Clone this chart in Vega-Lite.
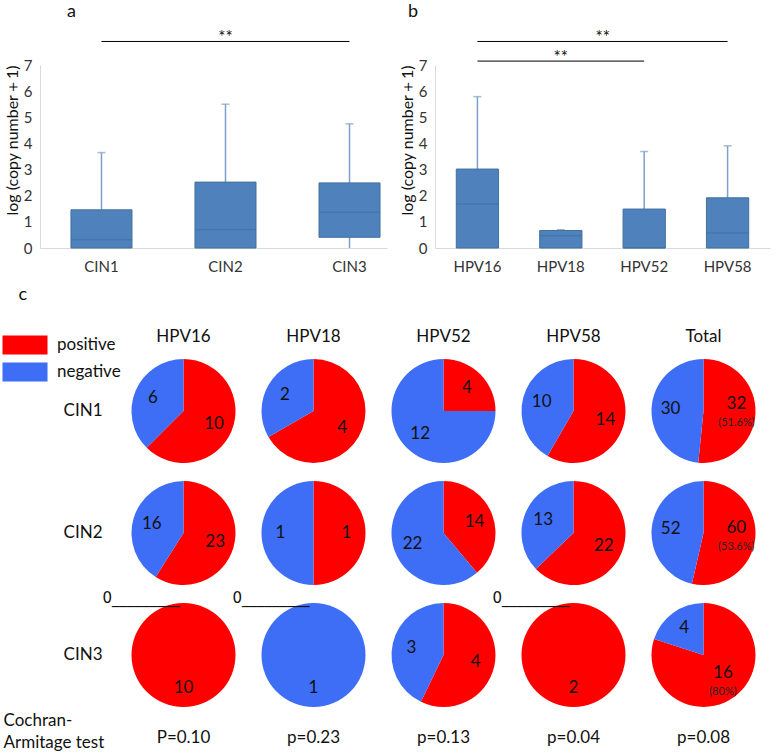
{
  "$schema": "https://vega.github.io/schema/vega-lite/v6.json",
  "padding": {"left": 3, "top": 3, "right": 0, "bottom": 0},
  "config": {
    "font": "Lato",
    "view": {"stroke": null},
    "axis": {"labelColor": "#333", "titleColor": "#111", "labelFont": "Lato", "titleFont": "Lato", "labelOverlap": false},
    "title": {"font": "Lato", "fontWeight": "normal", "color": "#111"},
    "header": {"labelFont": "Lato", "labelColor": "#111"},
    "legend": {"labelFont": "Lato", "labelColor": "#111"}
  },
  "center": true,
  "spacing": 12,
  "vconcat": [
    {
      "spacing": 12,
      "hconcat": [
        {
          "title": {"text": "a", "anchor": "start", "frame": "group", "dx": 27, "fontSize": 18, "offset": 8},
          "width": 347,
          "height": 183,
          "data": {"values": [
            {"cat": "CIN1", "lo": 0, "q1": 0, "med": 0.32, "q3": 1.46, "hi": 3.65},
            {"cat": "CIN2", "lo": 0, "q1": 0, "med": 0.70, "q3": 2.52, "hi": 5.5},
            {"cat": "CIN3", "lo": 0, "q1": 0.41, "med": 1.37, "q3": 2.49, "hi": 4.75}
          ]},
          "layer": [
            {
              "mark": {"type": "rule", "color": "#7F9FC8", "strokeWidth": 1.5},
              "encoding": {
                "x": {"field": "cat", "type": "nominal", "scale": {"paddingInner": 0.508, "paddingOuter": 0.153, "align": 0.816},
                      "axis": {"title": null, "labelAngle": 0, "ticks": false, "labelFontSize": 15, "labelPadding": 11, "domainColor": "#d9d9d9"}},
                "y": {"field": "lo", "type": "quantitative", "scale": {"domain": [0, 7], "nice": false},
                      "axis": {"values": [0, 1, 2, 3, 4, 5, 6, 7], "labelOverlap": false, "title": "log (copy number＋1)", "titleFontSize": 16, "titleFontWeight": "normal", "titleAnchor": "end", "titlePadding": 3, "labelPadding": 8, "ticks": false, "grid": false, "domainColor": "#d9d9d9", "labelFontSize": 15}},
                "y2": {"field": "hi"}
              }
            },
            {
              "mark": {"type": "tick", "color": "#7F9FC8", "size": 8, "thickness": 1.5},
              "encoding": {"x": {"field": "cat", "type": "nominal"},
                "y": {"field": "hi", "type": "quantitative", "axis": {"values": [0, 1, 2, 3, 4, 5, 6, 7], "labelOverlap": false, "title": "log (copy number＋1)", "titleFontSize": 16, "titleFontWeight": "normal", "titleAnchor": "end", "titlePadding": 3, "labelPadding": 8, "ticks": false, "grid": false, "domainColor": "#d9d9d9", "labelFontSize": 15}}}
            },
            {
              "mark": {"type": "bar", "fill": "#4F81BD", "stroke": "#41719C", "strokeWidth": 1},
              "encoding": {"x": {"field": "cat", "type": "nominal"},
                "y": {"field": "q1", "type": "quantitative", "axis": {"values": [0, 1, 2, 3, 4, 5, 6, 7], "labelOverlap": false, "title": "log (copy number＋1)", "titleFontSize": 16, "titleFontWeight": "normal", "titleAnchor": "end", "titlePadding": 3, "labelPadding": 8, "ticks": false, "grid": false, "domainColor": "#d9d9d9", "labelFontSize": 15}},
                "y2": {"field": "q3"}}
            },
            {
              "mark": {"type": "tick", "color": "#3D6A98", "size": 61, "thickness": 1},
              "encoding": {"x": {"field": "cat", "type": "nominal"},
                "y": {"field": "med", "type": "quantitative", "axis": {"values": [0, 1, 2, 3, 4, 5, 6, 7], "labelOverlap": false, "title": "log (copy number＋1)", "titleFontSize": 16, "titleFontWeight": "normal", "titleAnchor": "end", "titlePadding": 3, "labelPadding": 8, "ticks": false, "grid": false, "domainColor": "#d9d9d9", "labelFontSize": 15}}}
            },
            {
              "data": {"values": [{"from": "CIN1", "to": "CIN3", "mid": "CIN2", "y": 7.9, "label": "**"}]},
              "layer": [
                {
                  "mark": {"type": "rule", "color": "#000", "strokeWidth": 1},
                  "encoding": {"x": {"field": "from", "type": "nominal"}, "x2": {"field": "to"},
                    "y": {"field": "y", "type": "quantitative", "axis": {"values": [0, 1, 2, 3, 4, 5, 6, 7], "labelOverlap": false, "title": "log (copy number＋1)", "titleFontSize": 16, "titleFontWeight": "normal", "titleAnchor": "end", "titlePadding": 3, "labelPadding": 8, "ticks": false, "grid": false, "domainColor": "#d9d9d9", "labelFontSize": 15}}}
                },
                {
                  "mark": {"type": "text", "fontSize": 17, "baseline": "alphabetic", "dy": 2, "color": "#111"},
                  "encoding": {"x": {"field": "mid", "type": "nominal"},
                    "y": {"field": "y", "type": "quantitative", "axis": {"values": [0, 1, 2, 3, 4, 5, 6, 7], "labelOverlap": false, "title": "log (copy number＋1)", "titleFontSize": 16, "titleFontWeight": "normal", "titleAnchor": "end", "titlePadding": 3, "labelPadding": 8, "ticks": false, "grid": false, "domainColor": "#d9d9d9", "labelFontSize": 15}},
                    "text": {"field": "label"}}
                }
              ]
            }
          ]
        },
        {
          "title": {"text": "b", "anchor": "start", "frame": "group", "dx": -27, "fontSize": 18, "offset": 8},
          "width": 335,
          "height": 183,
          "data": {"values": [
            {"cat": "HPV16", "lo": 0, "q1": 0, "med": 1.68, "q3": 3.02, "hi": 5.79},
            {"cat": "HPV18", "lo": 0, "q1": 0, "med": 0.47, "q3": 0.67, "hi": 0.70},
            {"cat": "HPV52", "lo": 0, "q1": 0, "med": 0, "q3": 1.49, "hi": 3.69},
            {"cat": "HPV58", "lo": 0, "q1": 0, "med": 0.57, "q3": 1.92, "hi": 3.91}
          ]},
          "layer": [
            {
              "mark": {"type": "rule", "color": "#7F9FC8", "strokeWidth": 1.5},
              "encoding": {
                "x": {"field": "cat", "type": "nominal", "scale": {"paddingInner": 0.493, "paddingOuter": 0.255},
                      "axis": {"title": null, "labelAngle": 0, "ticks": false, "labelFontSize": 15, "labelPadding": 11, "domainColor": "#d9d9d9"}},
                "y": {"field": "lo", "type": "quantitative", "scale": {"domain": [0, 7], "nice": false},
                      "axis": {"values": [0, 1, 2, 3, 4, 5, 6, 7], "labelOverlap": false, "title": "log (copy number＋1)", "titleFontSize": 16, "titleFontWeight": "normal", "titleAnchor": "end", "titlePadding": 3, "labelPadding": 8, "ticks": false, "grid": false, "domainColor": "#d9d9d9", "labelFontSize": 15}},
                "y2": {"field": "hi"}
              }
            },
            {
              "mark": {"type": "tick", "color": "#7F9FC8", "size": 8, "thickness": 1.5},
              "encoding": {"x": {"field": "cat", "type": "nominal"},
                "y": {"field": "hi", "type": "quantitative", "axis": {"values": [0, 1, 2, 3, 4, 5, 6, 7], "labelOverlap": false, "title": "log (copy number＋1)", "titleFontSize": 16, "titleFontWeight": "normal", "titleAnchor": "end", "titlePadding": 3, "labelPadding": 8, "ticks": false, "grid": false, "domainColor": "#d9d9d9", "labelFontSize": 15}}}
            },
            {
              "mark": {"type": "bar", "fill": "#4F81BD", "stroke": "#41719C", "strokeWidth": 1},
              "encoding": {"x": {"field": "cat", "type": "nominal"},
                "y": {"field": "q1", "type": "quantitative", "axis": {"values": [0, 1, 2, 3, 4, 5, 6, 7], "labelOverlap": false, "title": "log (copy number＋1)", "titleFontSize": 16, "titleFontWeight": "normal", "titleAnchor": "end", "titlePadding": 3, "labelPadding": 8, "ticks": false, "grid": false, "domainColor": "#d9d9d9", "labelFontSize": 15}},
                "y2": {"field": "q3"}}
            },
            {
              "mark": {"type": "tick", "color": "#3D6A98", "size": 42, "thickness": 1},
              "encoding": {"x": {"field": "cat", "type": "nominal"},
                "y": {"field": "med", "type": "quantitative", "axis": {"values": [0, 1, 2, 3, 4, 5, 6, 7], "labelOverlap": false, "title": "log (copy number＋1)", "titleFontSize": 16, "titleFontWeight": "normal", "titleAnchor": "end", "titlePadding": 3, "labelPadding": 8, "ticks": false, "grid": false, "domainColor": "#d9d9d9", "labelFontSize": 15}}}
            },
            {
              "data": {"values": [
                {"from": "HPV16", "to": "HPV58", "mid": "HPV18", "y": 7.9, "label": "**", "k": "u"},
                {"from": "HPV16", "to": "HPV52", "mid": "HPV18", "y": 7.15, "label": "**", "k": "l"}
              ]},
              "layer": [
                {
                  "mark": {"type": "rule", "color": "#000", "strokeWidth": 1},
                  "encoding": {"x": {"field": "from", "type": "nominal"}, "x2": {"field": "to"},
                    "y": {"field": "y", "type": "quantitative", "axis": {"values": [0, 1, 2, 3, 4, 5, 6, 7], "labelOverlap": false, "title": "log (copy number＋1)", "titleFontSize": 16, "titleFontWeight": "normal", "titleAnchor": "end", "titlePadding": 3, "labelPadding": 8, "ticks": false, "grid": false, "domainColor": "#d9d9d9", "labelFontSize": 15}}}
                },
                {
                  "transform": [{"filter": "datum.k == 'u'"}],
                  "mark": {"type": "text", "fontSize": 17, "baseline": "alphabetic", "dy": 2, "color": "#111"},
                  "encoding": {"x": {"field": "mid", "type": "nominal", "bandPosition": 1.49},
                    "y": {"field": "y", "type": "quantitative", "axis": {"values": [0, 1, 2, 3, 4, 5, 6, 7], "labelOverlap": false, "title": "log (copy number＋1)", "titleFontSize": 16, "titleFontWeight": "normal", "titleAnchor": "end", "titlePadding": 3, "labelPadding": 8, "ticks": false, "grid": false, "domainColor": "#d9d9d9", "labelFontSize": 15}},
                    "text": {"field": "label"}}
                },
                {
                  "transform": [{"filter": "datum.k == 'l'"}],
                  "mark": {"type": "text", "fontSize": 17, "baseline": "alphabetic", "dy": 2, "color": "#111"},
                  "encoding": {"x": {"field": "mid", "type": "nominal"},
                    "y": {"field": "y", "type": "quantitative", "axis": {"values": [0, 1, 2, 3, 4, 5, 6, 7], "labelOverlap": false, "title": "log (copy number＋1)", "titleFontSize": 16, "titleFontWeight": "normal", "titleAnchor": "end", "titlePadding": 3, "labelPadding": 8, "ticks": false, "grid": false, "domainColor": "#d9d9d9", "labelFontSize": 15}},
                    "text": {"field": "label"}}
                }
              ]
            }
          ]
        },
        {
          "width": 65,
          "height": 10,
          "data": {"values": [{"k": "spacer"}]},
          "mark": {"type": "point", "opacity": 0},
          "encoding": {}
        }
      ]
    },
    {
      "title": {"text": "c", "anchor": "start", "frame": "bounds", "dx": 15, "fontSize": 18, "offset": 24},
      "bounds": "flush",
      "data": {"values": [
        {"grade": "CIN1", "type": "HPV16", "status": "positive", "count": 10},
        {"grade": "CIN1", "type": "HPV16", "status": "negative", "count": 6},
        {"grade": "CIN1", "type": "HPV18", "status": "positive", "count": 4},
        {"grade": "CIN1", "type": "HPV18", "status": "negative", "count": 2},
        {"grade": "CIN1", "type": "HPV52", "status": "positive", "count": 4},
        {"grade": "CIN1", "type": "HPV52", "status": "negative", "count": 12},
        {"grade": "CIN1", "type": "HPV58", "status": "positive", "count": 14},
        {"grade": "CIN1", "type": "HPV58", "status": "negative", "count": 10},
        {"grade": "CIN1", "type": "Total", "status": "positive", "count": 32, "pct": "(51.6%)"},
        {"grade": "CIN1", "type": "Total", "status": "negative", "count": 30},
        {"grade": "CIN2", "type": "HPV16", "status": "positive", "count": 23},
        {"grade": "CIN2", "type": "HPV16", "status": "negative", "count": 16},
        {"grade": "CIN2", "type": "HPV18", "status": "positive", "count": 1},
        {"grade": "CIN2", "type": "HPV18", "status": "negative", "count": 1},
        {"grade": "CIN2", "type": "HPV52", "status": "positive", "count": 14},
        {"grade": "CIN2", "type": "HPV52", "status": "negative", "count": 22},
        {"grade": "CIN2", "type": "HPV58", "status": "positive", "count": 22},
        {"grade": "CIN2", "type": "HPV58", "status": "negative", "count": 13},
        {"grade": "CIN2", "type": "Total", "status": "positive", "count": 60, "pct": "(53.6%)"},
        {"grade": "CIN2", "type": "Total", "status": "negative", "count": 52},
        {"grade": "CIN3", "type": "HPV16", "status": "positive", "count": 10},
        {"grade": "CIN3", "type": "HPV16", "status": "negative", "count": 0},
        {"grade": "CIN3", "type": "HPV18", "status": "positive", "count": 0},
        {"grade": "CIN3", "type": "HPV18", "status": "negative", "count": 1},
        {"grade": "CIN3", "type": "HPV52", "status": "positive", "count": 4},
        {"grade": "CIN3", "type": "HPV52", "status": "negative", "count": 3},
        {"grade": "CIN3", "type": "HPV58", "status": "positive", "count": 2},
        {"grade": "CIN3", "type": "HPV58", "status": "negative", "count": 0},
        {"grade": "CIN3", "type": "Total", "status": "positive", "count": 16, "pct": "(80%)"},
        {"grade": "CIN3", "type": "Total", "status": "negative", "count": 4},
        {"grade": "CIN3", "type": "HPV16", "status": "test", "label": "P=0.10"},
        {"grade": "CIN3", "type": "HPV18", "status": "test", "label": "p=0.23"},
        {"grade": "CIN3", "type": "HPV52", "status": "test", "label": "p=0.13"},
        {"grade": "CIN3", "type": "HPV58", "status": "test", "label": "p=0.04"},
        {"grade": "CIN3", "type": "Total", "status": "test", "label": "p=0.08"},
        {"grade": "CIN3", "type": "HPV16", "status": "note", "label": "Cochran-\nArmitage test"}
      ]},
      "facet": {
        "row": {"field": "grade", "type": "nominal", "header": {"title": null, "labelAngle": 0, "labelFontSize": 17, "labelAlign": "left", "labelPadding": 16}},
        "column": {"field": "type", "type": "nominal", "header": {"title": null, "labelFontSize": 17, "labelPadding": 4}}
      },
      "spacing": 0,
      "spec": {
        "width": 130,
        "height": 122,
        "layer": [
          {
            "transform": [{"filter": "datum.status == 'positive' || datum.status == 'negative'"}],
            "mark": {"type": "arc", "radius": 52},
            "encoding": {
              "theta": {"field": "count", "type": "quantitative", "stack": "normalize"},
              "order": {"field": "status", "sort": "descending"},
              "color": {"field": "status", "type": "nominal",
                        "scale": {"domain": ["positive", "negative"], "range": ["#FF0000", "#3D6EF5"]},
                        "legend": {"orient": "none", "legendX": -25, "legendY": 270, "title": null, "symbolType": "M-2.37,-1H2.37V1H-2.37Z", "symbolSize": 361, "labelFontSize": 17, "symbolStrokeWidth": 1, "symbolStrokeColor": "#999", "symbolOpacity": 1, "labelOffset": 22, "rowPadding": 3,
                                   "encode": {"symbols": {"update": {"fill": {"signal": "datum.value === 'negative' ? '#4F81BD' : '#FF0000'"}}}}}}
            }
          },
          {
            "transform": [{"filter": "datum.status == 'positive' || datum.status == 'negative'"}],
            "mark": {"type": "text", "radius": 33, "fontSize": 17, "color": "#111"},
            "encoding": {
              "theta": {"field": "count", "type": "quantitative", "stack": "normalize"},
              "order": {"field": "status", "sort": "descending"},
              "detail": {"field": "status"},
              "text": {"condition": {"test": "datum.count == 0 || datum.pct != null", "value": ""}, "field": "count", "type": "quantitative"}
            }
          },
          {
            "transform": [{"filter": "datum.status == 'positive' || datum.status == 'negative'"}],
            "mark": {"type": "text", "radius": 33, "fontSize": 17, "color": "#111", "dy": -9},
            "encoding": {
              "theta": {"field": "count", "type": "quantitative", "stack": "normalize"},
              "order": {"field": "status", "sort": "descending"},
              "detail": {"field": "status"},
              "text": {"condition": {"test": "datum.pct == null", "value": ""}, "field": "count", "type": "quantitative"}
            }
          },
          {
            "transform": [{"filter": "datum.status == 'positive' || datum.status == 'negative'"}],
            "mark": {"type": "text", "radius": 33, "fontSize": 11, "color": "#222", "dy": 10},
            "encoding": {
              "theta": {"field": "count", "type": "quantitative", "stack": "normalize"},
              "order": {"field": "status", "sort": "descending"},
              "detail": {"field": "status"},
              "text": {"condition": {"test": "datum.pct == null", "value": ""}, "field": "pct", "type": "nominal"}
            }
          },
          {
            "transform": [{"filter": "(datum.status == 'positive' || datum.status == 'negative') && datum.count === 0"}],
            "mark": {"type": "text", "font": "DejaVu Sans", "fontSize": 15, "align": "right", "baseline": "alphabetic", "dy": -52, "dx": -4, "color": "#111"},
            "encoding": {"text": {"value": "0_________"}}
          },
          {
            "transform": [{"filter": "datum.status == 'test'"}],
            "mark": {"type": "text", "fontSize": 17, "baseline": "middle", "dy": 83, "color": "#111"},
            "encoding": {"text": {"field": "label"}}
          },
          {
            "transform": [{"filter": "datum.status == 'note'"}],
            "mark": {"type": "text", "fontSize": 17, "align": "left", "baseline": "middle", "dx": -180, "dy": 66, "lineBreak": "\n", "lineHeight": 22, "color": "#111"},
            "encoding": {"text": {"field": "label"}}
          }
        ]
      }
    }
  ]
}
